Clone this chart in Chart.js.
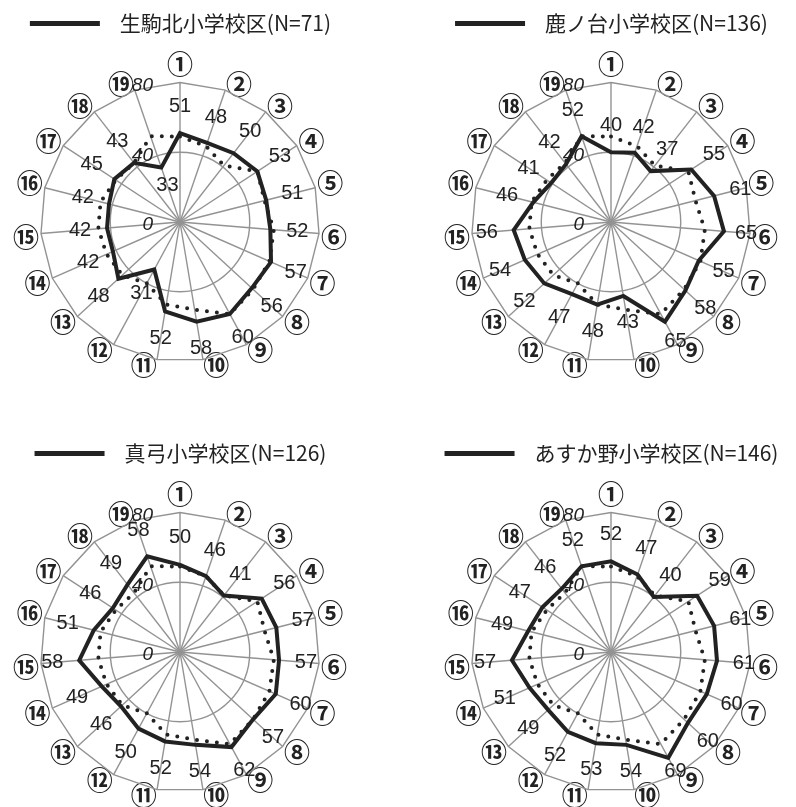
<!DOCTYPE html>
<html lang="ja">
<head>
<meta charset="utf-8">
<title>小学校区別 レーダーチャート</title>
<script src="https://cdn.jsdelivr.net/npm/chart.js@4.4.1/dist/chart.umd.min.js"></script>
<style>
  html, body { margin: 0; padding: 0; background: #fff; width: 796px; height: 807px; overflow: hidden; }
  .wrap { position: absolute; width: 365px; height: 400px; }
  #w1 { left: 0; top: 3px; }
  #w2 { left: 431px; top: 3px; }
  #w3 { left: 0; top: 433px; }
  #w4 { left: 431px; top: 433px; }
</style>
</head>
<body>
<div class="wrap" id="w1"><canvas id="c1" width="365" height="400"></canvas></div>
<div class="wrap" id="w2"><canvas id="c2" width="365" height="400"></canvas></div>
<div class="wrap" id="w3"><canvas id="c3" width="365" height="400"></canvas></div>
<div class="wrap" id="w4"><canvas id="c4" width="365" height="400"></canvas></div>
<script>
// ---- data ----
const axisLabels = ['①', '②', '③', '④', '⑤', '⑥', '⑦', '⑧', '⑨', '⑩',
                    '⑪', '⑫', '⑬', '⑭', '⑮', '⑯', '⑰', '⑱', '⑲'];

// dotted line (same in every chart)
const cityAvg    = [49, 46, 41, 53, 50, 54, 56, 57, 60, 51, 48, 40, 45, 46, 47, 47, 44, 43, 52];

const ikomaKita  = [51, 48, 50, 53, 51, 52, 57, 56, 60, 58, 52, 31, 48, 42, 42, 42, 45, 43, 33];
const shikanodai = [40, 42, 37, 55, 61, 65, 55, 58, 65, 43, 48, 47, 52, 54, 56, 46, 41, 42, 52];
const mayumi     = [50, 46, 41, 56, 57, 57, 60, 57, 62, 54, 52, 50, 46, 49, 58, 51, 46, 49, 58];
const asukano    = [52, 47, 40, 59, 61, 61, 60, 60, 69, 54, 53, 52, 49, 51, 57, 49, 47, 46, 52];

const schools = [
  { id: 'c1', name: '生駒北小学校区(N=71)',  values: ikomaKita,  inside: [18] },
  { id: 'c2', name: '鹿ノ台小学校区(N=136)', values: shikanodai, inside: [] },
  { id: 'c3', name: '真弓小学校区(N=126)',   values: mayumi,     inside: [] },
  { id: 'c4', name: 'あすか野小学校区(N=146)', values: asukano,  inside: [] }
];

const INK = '#222';
const GRID = '#939393';
const JP = '"Noto Sans CJK JP", "Noto Sans", sans-serif';

// value labels + italic scale labels (0 / 40 / 80)
const valueLabels = {
  id: 'valueLabels',
  afterDatasetsDraw(chart, args, opts) {
    const r = chart.scales.r;
    const ctx = chart.ctx;
    ctx.save();
    ctx.fillStyle = INK;
    ctx.textBaseline = 'middle';

    ctx.font = 'italic 19px "Liberation Sans", Arial, sans-serif';
    ctx.textAlign = 'right';
    r.ticks.forEach(t => {
      const y = r.yCenter - r.getDistanceFromCenterForValue(t.value) + 3;
      ctx.fillText(String(t.value), r.xCenter - 27, y);
    });

    ctx.font = '20px "Liberation Sans Narrow", "Liberation Sans", Arial, sans-serif';
    ctx.textAlign = 'center';
    chart.data.datasets[0].data.forEach((v, i) => {
      const d = r.getDistanceFromCenterForValue(v);
      const dist = opts.inside.includes(i) ? d - 19 : Math.min(d + 27, r.drawingArea - 4);
      const p = r.getPointPosition(i, dist);
      ctx.fillText(String(v), p.x, p.y);
    });
    ctx.restore();
  }
};

schools.forEach(s => {
  new Chart(document.getElementById(s.id), {
    type: 'radar',
    data: {
      labels: axisLabels,
      datasets: [
        {
          label: s.name,
          data: s.values,
          borderColor: INK,
          borderWidth: 4,
          pointRadius: 0,
          fill: false
        },
        {
          label: '全体',
          data: cityAvg,
          borderColor: INK,
          borderWidth: 4,
          borderDash: [0, 10],
          borderCapStyle: 'round',
          pointRadius: 0,
          fill: false
        }
      ]
    },
    options: {
      responsive: false,
      animation: false,
      events: [],
      layout: { padding: { left: 13, right: 17, top: 0, bottom: 17 } },
      plugins: {
        tooltip: { enabled: false },
        legend: {
          position: 'top',
          labels: {
            boxWidth: 70, boxHeight: 5, padding: 10, color: INK,
            font: { family: JP, size: 21 },
            generateLabels: c => [{
              text: '  ' + c.data.datasets[0].label,
              fillStyle: INK, strokeStyle: INK, lineWidth: 0,
              datasetIndex: 0, fontColor: INK
            }]
          }
        },
        valueLabels: { inside: s.inside }
      },
      scales: {
        r: {
          min: 0, max: 80,
          ticks: { stepSize: 40, display: false },
          grid: { color: GRID, lineWidth: 1.4, circular: c => c.tick && c.tick.value < 80 },
          angleLines: { color: GRID, lineWidth: 1.4 },
          pointLabels: {
            color: INK,
            padding: c => c.index === 0 ? 14 : 2,
            font: { family: JP, size: 26, weight: 'bold', lineHeight: 0.3 }
          }
        }
      }
    },
    plugins: [valueLabels]
  });
});
</script>
</body>
</html>
